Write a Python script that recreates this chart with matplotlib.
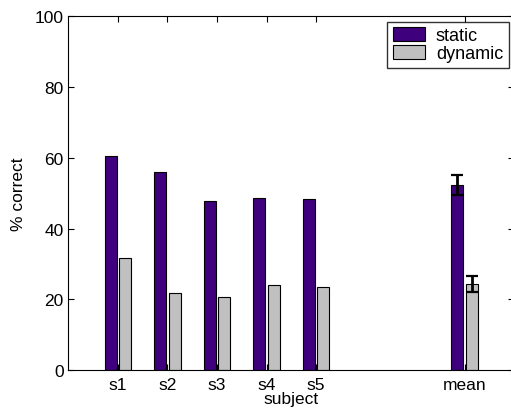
import numpy as np
import matplotlib
matplotlib.use("Agg")
import matplotlib.pyplot as plt

plt.rcParams["font.family"] = ["Liberation Sans", "DejaVu Sans"]

# ------------------------------------------------
# Data
# ------------------------------------------------

labels = ["s1", "s2", "s3", "s4", "s5", "mean"]
positions = [1, 2, 3, 4, 5, 8]
static_vals = [60.4, 55.9, 47.7, 48.6, 48.4, 52.3]
dynamic_vals = [31.8, 21.7, 20.7, 24.1, 23.6, 24.3]
static_err = [0, 0, 0, 0, 0, 2.7]
dynamic_err = [0, 0, 0, 0, 0, 2.2]

# ------------------------------------------------
# Plot
# ------------------------------------------------

fig = plt.figure(figsize=(5.11, 4.10), dpi=100)
ax = fig.add_axes([0.134, 0.095, 0.872, 0.863])

pos = np.array(positions, dtype=float)
w = 0.24
off = 0.145
fs = 12.5

ax.bar(pos - off, static_vals, width=w, color="#3f007d",
       edgecolor="black", linewidth=0.8, label="static")
ax.bar(pos + off, dynamic_vals, width=w, color="#c0c0c0",
       edgecolor="black", linewidth=0.8, label="dynamic")

# error bars only on the mean group
ax.errorbar(pos[-1] - off, static_vals[-1], yerr=static_err[-1],
            fmt="none", ecolor="black", elinewidth=2, capsize=4.5, capthick=1.6)
ax.errorbar(pos[-1] + off, dynamic_vals[-1], yerr=dynamic_err[-1],
            fmt="none", ecolor="black", elinewidth=2, capsize=4.5, capthick=1.6)

ax.set_xlim(0, 9)
ax.set_ylim(0, 100)
ax.set_xticks(positions)
ax.set_xticklabels(labels)
ax.set_yticks([0, 20, 40, 60, 80, 100])
ax.tick_params(direction="in", top=True, right=True, labelsize=fs, length=4)
ax.tick_params(axis="x", pad=5)
ax.spines["right"].set_visible(False)

ax.set_xlabel("subject", fontsize=fs, labelpad=-1)
ax.set_ylabel("% correct", fontsize=fs, labelpad=6)

leg = ax.legend(loc="upper right", fontsize=13, frameon=True, fancybox=False,
                edgecolor="black", borderaxespad=0.3, handlelength=1.8,
                handleheight=0.8, borderpad=0.3, labelspacing=0.05,
                handletextpad=0.6)
leg.get_frame().set_linewidth(1.0)

fig.savefig("out.png", dpi=100)
